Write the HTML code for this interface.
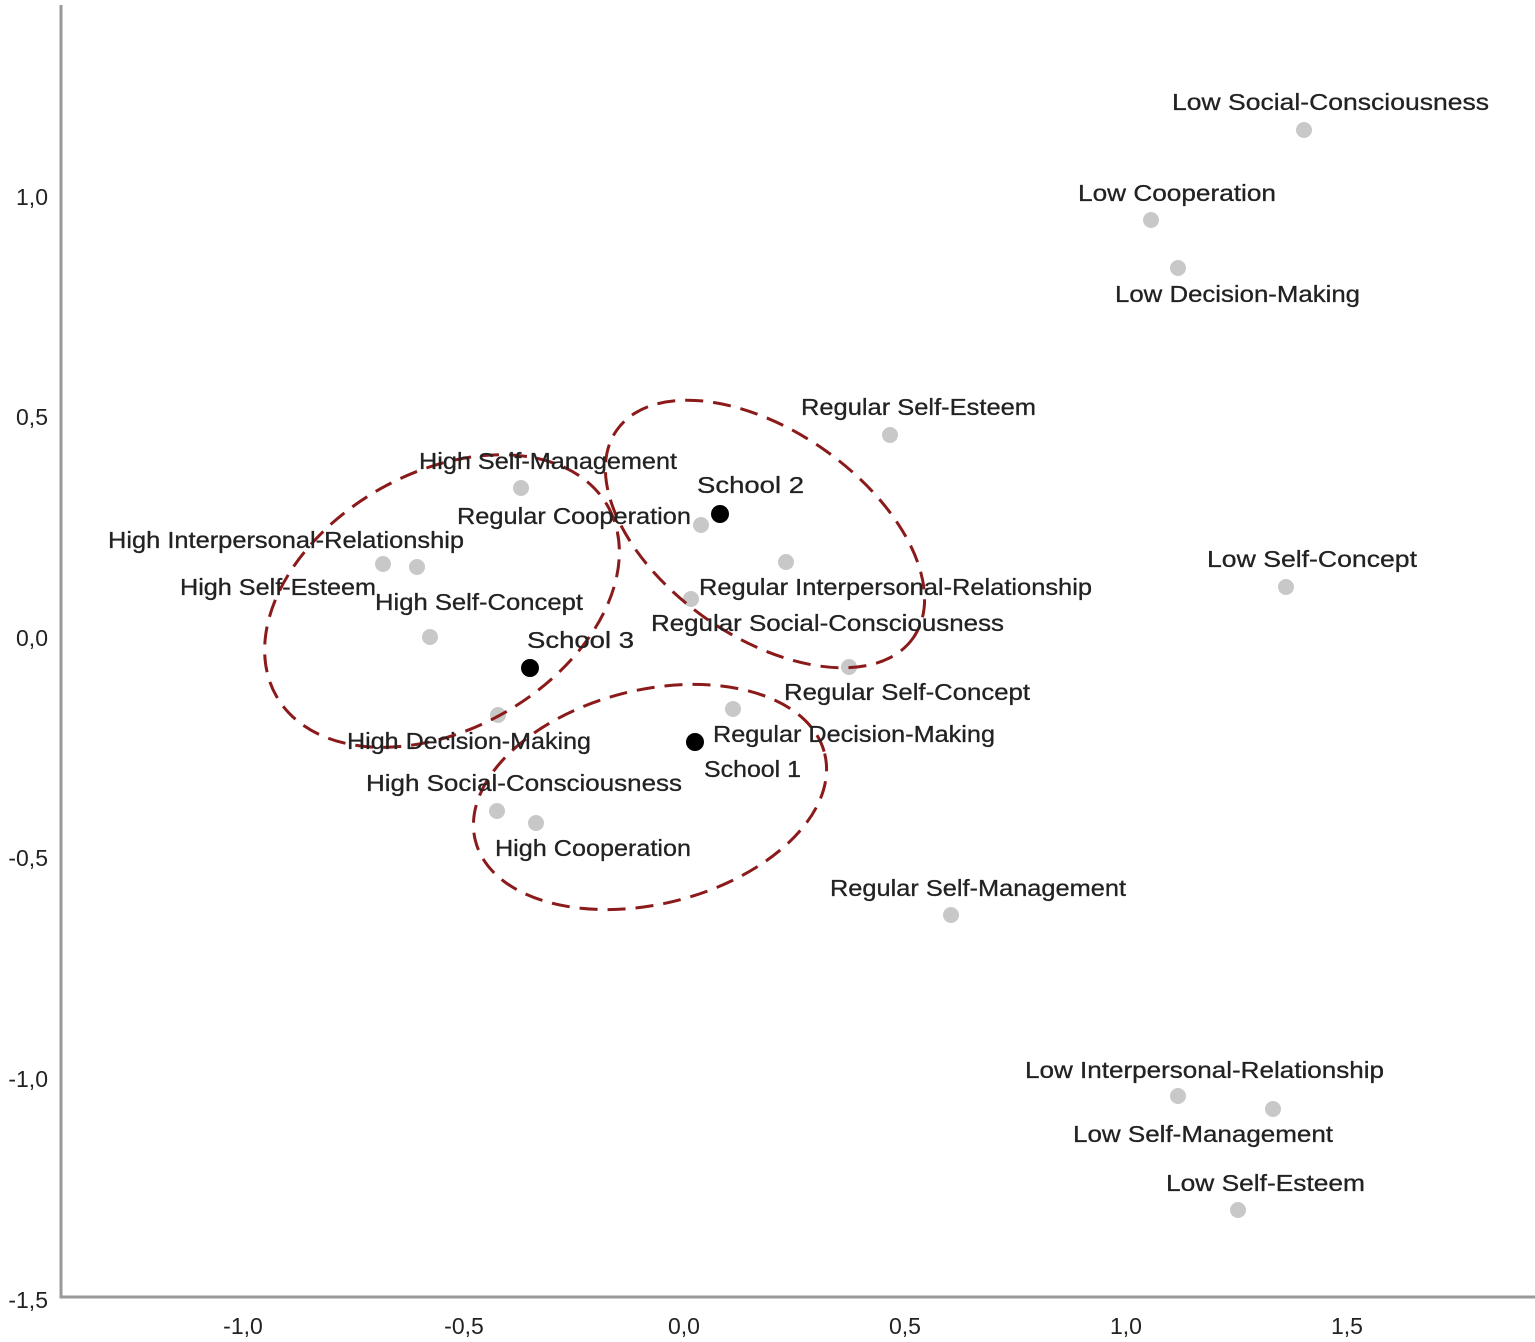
<!DOCTYPE html>
<html><head><meta charset="utf-8"><style>
html,body{margin:0;padding:0;background:#fff;}
svg{display:block;}
text{font-family:"Liberation Sans",sans-serif;fill:#222;}
.l{font-size:23px;stroke:#222;stroke-width:0.3;}
.t{font-size:23px;fill:#333;}
</style></head><body>
<svg width="1535" height="1342" viewBox="0 0 1535 1342" xmlns="http://www.w3.org/2000/svg">
<path d="M61 5 V1297 H1535" fill="none" stroke="#999" stroke-width="3"/>
<g class="t" text-anchor="end">
<text x="48" y="205">1,0</text>
<text x="48" y="425">0,5</text>
<text x="48" y="646">0,0</text>
<text x="48" y="866">-0,5</text>
<text x="48" y="1087">-1,0</text>
<text x="48" y="1308">-1,5</text>
</g>
<g class="t" text-anchor="middle">
<text x="243" y="1334">-1,0</text>
<text x="464" y="1334">-0,5</text>
<text x="684" y="1334">0,0</text>
<text x="905" y="1334">0,5</text>
<text x="1126" y="1334">1,0</text>
<text x="1347" y="1334">1,5</text>
</g>
<g fill="#c8c8c8">
<circle cx="1304" cy="130" r="8"/><circle cx="1151" cy="220" r="8"/><circle cx="1178" cy="268" r="8"/>
<circle cx="890" cy="435" r="8"/><circle cx="521" cy="488" r="8"/><circle cx="701" cy="525" r="8"/>
<circle cx="383" cy="564" r="8"/><circle cx="417" cy="567" r="8"/><circle cx="786" cy="562" r="8"/>
<circle cx="1286" cy="587" r="8"/><circle cx="691" cy="599" r="8"/><circle cx="430" cy="637" r="8"/>
<circle cx="849" cy="667" r="8"/><circle cx="733" cy="709" r="8"/><circle cx="498" cy="715" r="8"/>
<circle cx="497" cy="811" r="8"/><circle cx="536" cy="823" r="8"/><circle cx="951" cy="915" r="8"/>
<circle cx="1178" cy="1096" r="8"/><circle cx="1273" cy="1109" r="8"/><circle cx="1238" cy="1210" r="8"/>
</g>
<g fill="#000">
<circle cx="720" cy="514" r="9"/><circle cx="530" cy="668" r="9"/><circle cx="695" cy="742" r="9"/>
</g>
<g fill="none" stroke="#8b1a1a" stroke-width="3" stroke-dasharray="18 10">
<ellipse cx="442" cy="601" rx="191" ry="128" transform="rotate(-30 442 601)"/>
<ellipse cx="765" cy="534" rx="181" ry="103" transform="rotate(35 765 534)"/>
<ellipse cx="650" cy="797" rx="180" ry="107" transform="rotate(-14 650 797)"/>
</g>
<g class="l">
<text x="1172" y="110" textLength="317" lengthAdjust="spacingAndGlyphs">Low Social-Consciousness</text>
<text x="1078" y="201" textLength="198" lengthAdjust="spacingAndGlyphs">Low Cooperation</text>
<text x="1115" y="302" textLength="245" lengthAdjust="spacingAndGlyphs">Low Decision-Making</text>
<text x="801" y="415" textLength="235" lengthAdjust="spacingAndGlyphs">Regular Self-Esteem</text>
<text x="419" y="469" textLength="258" lengthAdjust="spacingAndGlyphs">High Self-Management</text>
<text x="697" y="493" textLength="107" lengthAdjust="spacingAndGlyphs">School  2</text>
<text x="457" y="524" textLength="234" lengthAdjust="spacingAndGlyphs">Regular Cooperation</text>
<text x="108" y="548" textLength="356" lengthAdjust="spacingAndGlyphs">High Interpersonal-Relationship</text>
<text x="180" y="595" textLength="196" lengthAdjust="spacingAndGlyphs">High Self-Esteem</text>
<text x="699" y="595" textLength="393" lengthAdjust="spacingAndGlyphs">Regular Interpersonal-Relationship</text>
<text x="1207" y="567" textLength="210" lengthAdjust="spacingAndGlyphs">Low Self-Concept</text>
<text x="651" y="631" textLength="353" lengthAdjust="spacingAndGlyphs">Regular Social-Consciousness</text>
<text x="375" y="610" textLength="208" lengthAdjust="spacingAndGlyphs">High Self-Concept</text>
<text x="527" y="648" textLength="107" lengthAdjust="spacingAndGlyphs">School  3</text>
<text x="784" y="700" textLength="246" lengthAdjust="spacingAndGlyphs">Regular Self-Concept</text>
<text x="713" y="742" textLength="282" lengthAdjust="spacingAndGlyphs">Regular Decision-Making</text>
<text x="347" y="749" textLength="244" lengthAdjust="spacingAndGlyphs">High Decision-Making</text>
<text x="704" y="777" textLength="97" lengthAdjust="spacingAndGlyphs">School 1</text>
<text x="366" y="791" textLength="316" lengthAdjust="spacingAndGlyphs">High Social-Consciousness</text>
<text x="495" y="856" textLength="196" lengthAdjust="spacingAndGlyphs">High Cooperation</text>
<text x="830" y="896" textLength="296" lengthAdjust="spacingAndGlyphs">Regular Self-Management</text>
<text x="1025" y="1078" textLength="359" lengthAdjust="spacingAndGlyphs">Low Interpersonal-Relationship</text>
<text x="1073" y="1142" textLength="260" lengthAdjust="spacingAndGlyphs">Low Self-Management</text>
<text x="1166" y="1191" textLength="199" lengthAdjust="spacingAndGlyphs">Low Self-Esteem</text>
</g>
</svg>
</body></html>
